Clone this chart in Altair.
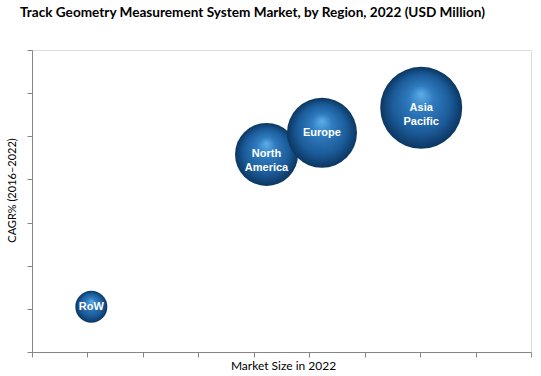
import altair as alt
import pandas as pd

regions = ["RoW", "North\nAmerica", "Europe", "Asia\nPacific"]
market_size = [1.07, 4.23, 5.23, 7.02]
cagr = [1.05, 4.58, 5.08, 5.66]
bubble = [256, 992, 1225, 1681]

x_ticks = list(range(10))
y_ticks = list(range(8))

df = pd.DataFrame({"region": regions, "market": market_size, "cagr": cagr, "bubble": bubble})

grad = {
    "gradient": "radial",
    "x1": 0.5, "y1": 0.33, "r1": 0.0,
    "x2": 0.5, "y2": 0.5, "r2": 0.5,
    "stops": [
        {"offset": 0.0, "color": "#5eaee9"},
        {"offset": 0.3, "color": "#2f7bbf"},
        {"offset": 0.7, "color": "#1c5c9a"},
        {"offset": 1.0, "color": "#0b3661"},
    ],
}

x_enc = alt.X(
    "market:Q",
    scale=alt.Scale(domain=[0, 9], nice=False, zero=True),
    axis=alt.Axis(
        values=x_ticks, labels=False, grid=False, title="Market Size in 2022",
        domainColor="#868686", tickColor="#868686", tickSize=5,
        titleFont="Lato", titleFontSize=12, titleFontWeight="normal", titleColor="#000000",
        titleX=251, titleY=13, titleBaseline="middle", titleAlign="center",
    ),
)
y_enc = alt.Y(
    "cagr:Q",
    scale=alt.Scale(domain=[0, 7], nice=False, zero=True),
    axis=alt.Axis(
        values=y_ticks, labels=False, grid=False, title="CAGR% (2016–2022)",
        domainColor="#868686", tickColor="#868686", tickSize=5,
        titleFont="Lato", titleFontSize=11, titleFontWeight="normal", titleColor="#000000",
        titleX=-20, titleY=140, titleAngle=270, titleBaseline="middle", titleAlign="center",
    ),
)

bubbles = alt.Chart(df).mark_circle(opacity=1, fill=grad, stroke=None).encode(
    x=x_enc,
    y=y_enc,
    size=alt.Size("bubble:Q", scale=alt.Scale(type="linear", domain=[0, 1681], range=[0, 6724]), legend=None),
)

labels = alt.Chart(df).mark_text(
    color="white", font="Liberation Sans", fontWeight="bold", fontSize=11,
    lineBreak="\n", lineHeight=14, align="center", baseline="middle",
).encode(
    x=alt.X("market:Q"),
    y=alt.Y("cagr:Q"),
    text="region:N",
)

chart = (bubbles + labels).properties(
    width=499,
    height=302,
    autosize=alt.AutoSizeParams(type="none"),
    padding={"left": 32, "top": 50, "right": 10, "bottom": 24},
    title=alt.TitleParams(
        "Track Geometry Measurement System Market, by Region, 2022 (USD Million)",
        font="Lato", fontSize=13.6, fontWeight="bold", color="#000000",
        anchor="middle", dx=-29, offset=30,
    ),
).configure_view(stroke=None).configure(background="white")

chart.save("out.html", embed_options={"renderer": "svg", "actions": False})
